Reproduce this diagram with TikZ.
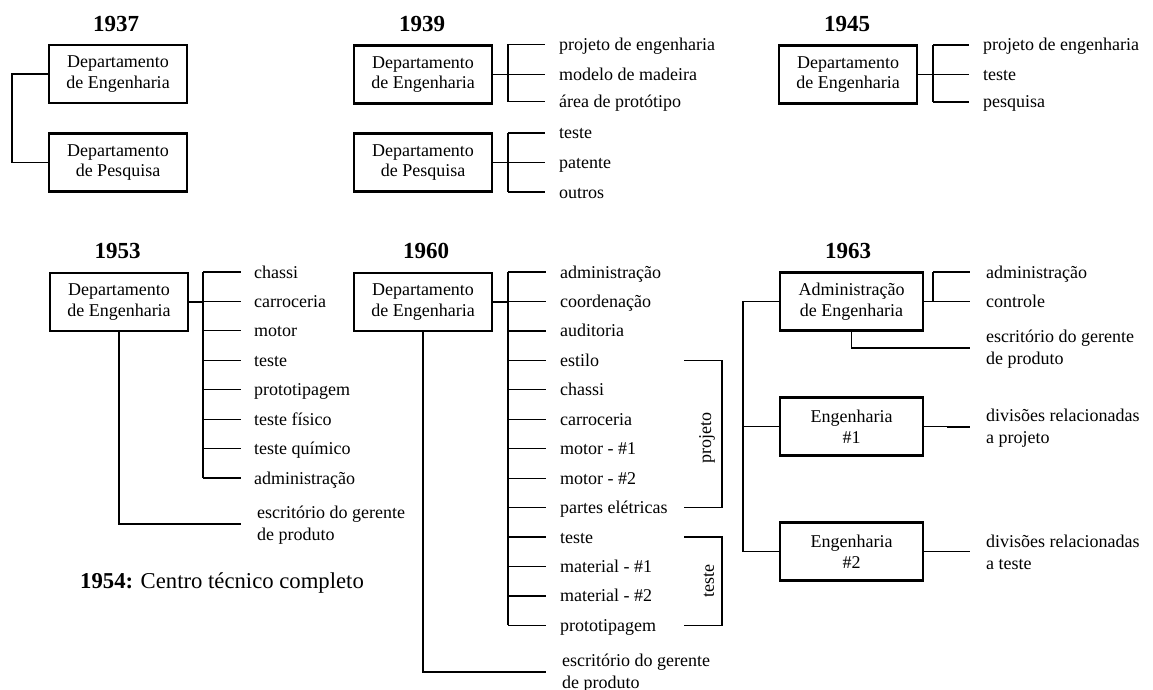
\documentclass[tikz,border=0pt]{standalone}
\usepackage{fontspec}
\setmainfont{Liberation Serif}

\tikzset{
  orgbox/.style={draw, line width=2.4pt, minimum width=138pt, minimum height=58pt,
    inner sep=0pt, align=center, font=\fontsize{18}{20.7}\selectfont},
  widebox/.style={minimum width=143pt},
  leaf/.style={anchor=west, inner sep=0pt, text height=12pt, text depth=0pt,
    font=\fontsize{18}{21}\selectfont},
  leaftwo/.style={anchor=west, inner sep=0pt, align=left,
    font=\fontsize{18}{21.5}\selectfont},
  yearlabel/.style={anchor=base, font=\bfseries\fontsize{23}{26}\selectfont},
  link/.style={line width=1.2pt},
  sidelabel/.style={rotate=90, inner sep=0pt, font=\fontsize{18}{21}\selectfont},
}

\begin{document}
\begin{tikzpicture}[x=1pt, y=-1pt]
\fill[white] (0,0) rectangle (1153,690);
\useasboundingbox (0,0) rectangle (1153,690);

% ---------- 1937 ----------
\node[yearlabel] (y37) at (116,32) {1937};
\node[orgbox] (e37) at (118,74) {Departamento\\de Engenharia};
\node[orgbox] (p37) at (118,162.5) {Departamento\\de Pesquisa};
\coordinate (t37) at (12,0);
\draw[link] (e37.west) -- (t37 |- e37.west) -- (t37 |- p37.west) -- (p37.west);

% ---------- 1939 ----------
\node[yearlabel] (y39) at (422,32) {1939};
\node[orgbox] (e39) at (423,74.5) {Departamento\\de Engenharia};
\node[orgbox] (p39) at (423,162.5) {Departamento\\de Pesquisa};
\coordinate (t39) at (508,0);
\coordinate (b39) at (545,0);
\foreach \n/\y/\t in {a/44.3/projeto de engenharia, b/74.5/modelo de madeira, c/101.7/área de protótipo,
                      d/133/teste, e/162.5/patente, f/192/outros}{
  \node[leaf] (x39\n) at (559,\y) {\t};
  \draw[link] (t39 |- x39\n.west) -- (b39 |- x39\n.west);
}
\draw[link] (t39 |- x39a.west) -- (t39 |- x39c.west);
\draw[link] (t39 |- x39d.west) -- (t39 |- x39f.west);
\draw[link] (e39.east) -- (t39 |- e39.east);
\draw[link] (p39.east) -- (t39 |- p39.east);

% ---------- 1945 ----------
\node[yearlabel] (y45) at (847,32) {1945};
\node[orgbox] (e45) at (848,74.5) {Departamento\\de Engenharia};
\coordinate (t45) at (933,0);
\coordinate (b45) at (969,0);
\foreach \n/\y/\t in {a/45/projeto de engenharia, b/74.5/teste, c/102/pesquisa}{
  \node[leaf] (x45\n) at (983,\y) {\t};
  \draw[link] (t45 |- x45\n.west) -- (b45 |- x45\n.west);
}
\draw[link] (t45 |- x45a.west) -- (t45 |- x45c.west);
\draw[link] (e45.east) -- (t45 |- e45.east);

% ---------- 1953 ----------
\node[yearlabel] (y53) at (117.5,258) {1953};
\node[orgbox] (e53) at (119,302) {Departamento\\de Engenharia};
\coordinate (t53) at (203,0);
\coordinate (b53) at (241,0);
\foreach \n/\i/\t in {a/0/chassi, b/1/carroceria, c/2/motor, d/3/teste, e/4/prototipagem,
                      f/5/teste físico, g/6/teste químico, h/7/administração}{
  \node[leaf] (x53\n) at (254,272+29.43*\i) {\t};
  \draw[link] (t53 |- x53\n.west) -- (b53 |- x53\n.west);
}
\draw[link] (t53 |- x53a.west) -- (t53 |- x53h.west);
\draw[link] (e53.east) -- (t53 |- e53.east);
\node[leaftwo] (m53) at (257,525) {escritório do gerente\\de produto};
\draw[link] (e53.south) |- ([yshift=1pt]m53.west -| b53);

\node[anchor=base west, inner sep=0pt, font=\fontsize{22.7}{26}\selectfont] (c54) at (80,588)
  {\textbf{1954:} Centro técnico completo};

% ---------- 1960 ----------
\node[yearlabel] (y60) at (426,258) {1960};
\node[orgbox] (e60) at (423,302) {Departamento\\de Engenharia};
\coordinate (t60) at (508,0);
\coordinate (b60) at (546,0);
\foreach \n/\i/\t in {a/0/administração, b/1/coordenação, c/2/auditoria, d/3/estilo,
                      e/4/chassi, f/5/carroceria, g/6/motor - \#1, h/7/motor - \#2,
                      i/8/partes elétricas, j/9/teste, k/10/material - \#1,
                      l/11/material - \#2, m/12/prototipagem}{
  \node[leaf] (x60\n) at (560,272+29.45*\i) {\t};
  \draw[link] (t60 |- x60\n.west) -- (b60 |- x60\n.west);
}
\draw[link] (t60 |- x60a.west) -- (t60 |- x60m.west);
\draw[link] (e60.east) -- (t60 |- e60.east);
\node[leaftwo] (m60) at (562,673) {escritório do gerente\\de produto};
\draw[link] (e60.south) |- ([yshift=1pt]m60.west -| b60);

% grouping brackets
\coordinate (k1) at (684,0);
\coordinate (k2) at (722,0);
\draw[link] (k1 |- x60d.west) -- (k2 |- x60d.west) -- (k2 |- x60i.west) -- (k1 |- x60i.west);
\draw[link] (k1 |- x60j.west) -- (k2 |- x60j.west) -- (k2 |- x60m.west) -- (k1 |- x60m.west);
\node[sidelabel] (s1) at (707,438) {projeto};
\node[sidelabel] (s2) at (709,581) {teste};

% ---------- 1963 ----------
\node[yearlabel] (y63) at (848,258) {1963};
\node[orgbox, widebox] (a63) at (851.5,301.5) {Administração\\de Engenharia};
\node[orgbox, widebox] (g1) at (851.5,426.5) {Engenharia\\\#1};
\node[orgbox, widebox] (g2) at (851.5,551.5) {Engenharia\\\#2};
\coordinate (t63) at (933,0);
\coordinate (b63) at (970,0);
\coordinate (l63) at (743,0);
\node[leaf] (x63a) at (986,272) {administração};
\node[leaf] (x63b) at (986,301.5) {controle};
\draw[link] (t63 |- x63a.west) -- (b63 |- x63a.west);
\draw[link] (a63.east) -- (b63 |- x63b.west);
\draw[link] (t63 |- x63a.west) -- (t63 |- x63b.west);
\node[leaftwo] (m63) at (986,349) {escritório do gerente\\de produto};
\draw[link] (a63.south) |- ([yshift=1pt]m63.west -| b63);
\node[leaftwo] (d1) at (986,428) {divisões relacionadas\\a projeto};
\node[leaftwo] (d2) at (986,552.5) {divisões relacionadas\\a teste};
\draw[link] (g1.east) -- ++(23,0) |- ([yshift=1pt]d1.west -| b63);
\draw[link] (g2.east) -- ([yshift=1pt]d2.west -| b63);
\draw[link] (a63.west) -- (l63 |- a63.west) -- (l63 |- g2.west) -- (g2.west);
\draw[link] (l63 |- g1.west) -- (g1.west);
\end{tikzpicture}
\end{document}
